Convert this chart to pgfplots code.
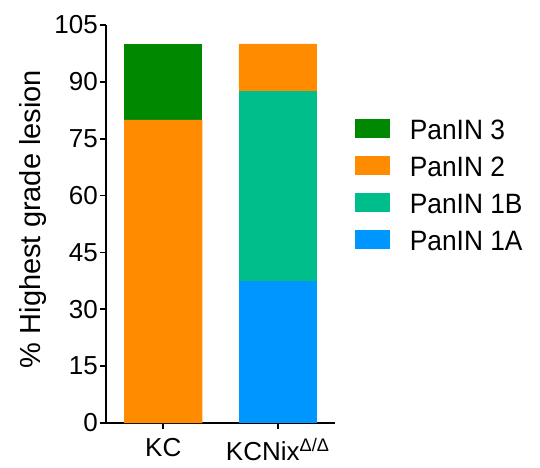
\documentclass[border=0pt]{standalone}
\usepackage{pgfplots}
\pgfplotsset{compat=1.18}
\usepackage{fontspec}
\setmainfont{Liberation Sans}
\newfontfamily\legfont[FakeStretch=0.94]{Liberation Sans}
\definecolor{cG}{RGB}{0,136,0}
\definecolor{cO}{RGB}{255,140,0}
\definecolor{cT}{RGB}{0,190,140}
\definecolor{cB}{RGB}{0,150,255}
\begin{document}
\begin{tikzpicture}
\path[use as bounding box] (-106pt,-44pt) rectangle (434pt,423pt);
\begin{axis}[
  at={(0,0)}, anchor=south west,
  scale only axis, width=229pt, height=398pt,
  xmin=-0.5, xmax=1.5, ymin=0, ymax=105,
  axis x line*=bottom, axis y line*=left,
  axis line style={line width=2pt,-},
  ytick={0,15,...,105}, xtick={0,1},
  xticklabels={KC, KCNix\textsuperscript{Δ/Δ}},
  tick align=outside, major tick length=6pt,
  tick style={line width=1.8pt, black},
  /pgf/number format/assume math mode=true,
  ticklabel style={font=\fontsize{26}{30}\selectfont},
  yticklabel style={inner sep=0pt, xshift=-2pt},
  xticklabel style={inner sep=0pt, yshift=-9pt},
  ylabel={\% Highest grade lesion},
  every axis y label/.style={at={(axis description cs:0,0.5)}, xshift=-73pt, yshift=5pt, rotate=90, anchor=center, font=\fontsize{29}{34}\selectfont},
  ybar stacked, bar width=78pt,
  reverse legend,
  legend cell align=left,
  legend image code/.code={\fill[#1] (0pt,-8pt) rectangle (35pt,11pt);},
  legend style={draw=none, fill=none, at={(1.087,0.765)}, anchor=north west,
    inner sep=0pt, outer sep=0pt,
    font=\legfont\fontsize{28}{32}\selectfont, row sep=16pt, column sep=20pt,
    nodes={inner sep=0pt, outer sep=0pt, text height=20pt, text depth=0pt}},
]
\addplot[fill=cB, draw=none] coordinates {(0,0) (1,37.5)};
\addplot[fill=cT, draw=none] coordinates {(0,0) (1,50)};
\addplot[fill=cO, draw=none] coordinates {(0,80) (1,12.5)};
\addplot[fill=cG, draw=none] coordinates {(0,20) (1,0)};
\legend{PanIN 1A, PanIN 1B, PanIN 2, PanIN 3}
\end{axis}
\end{tikzpicture}
\end{document}
